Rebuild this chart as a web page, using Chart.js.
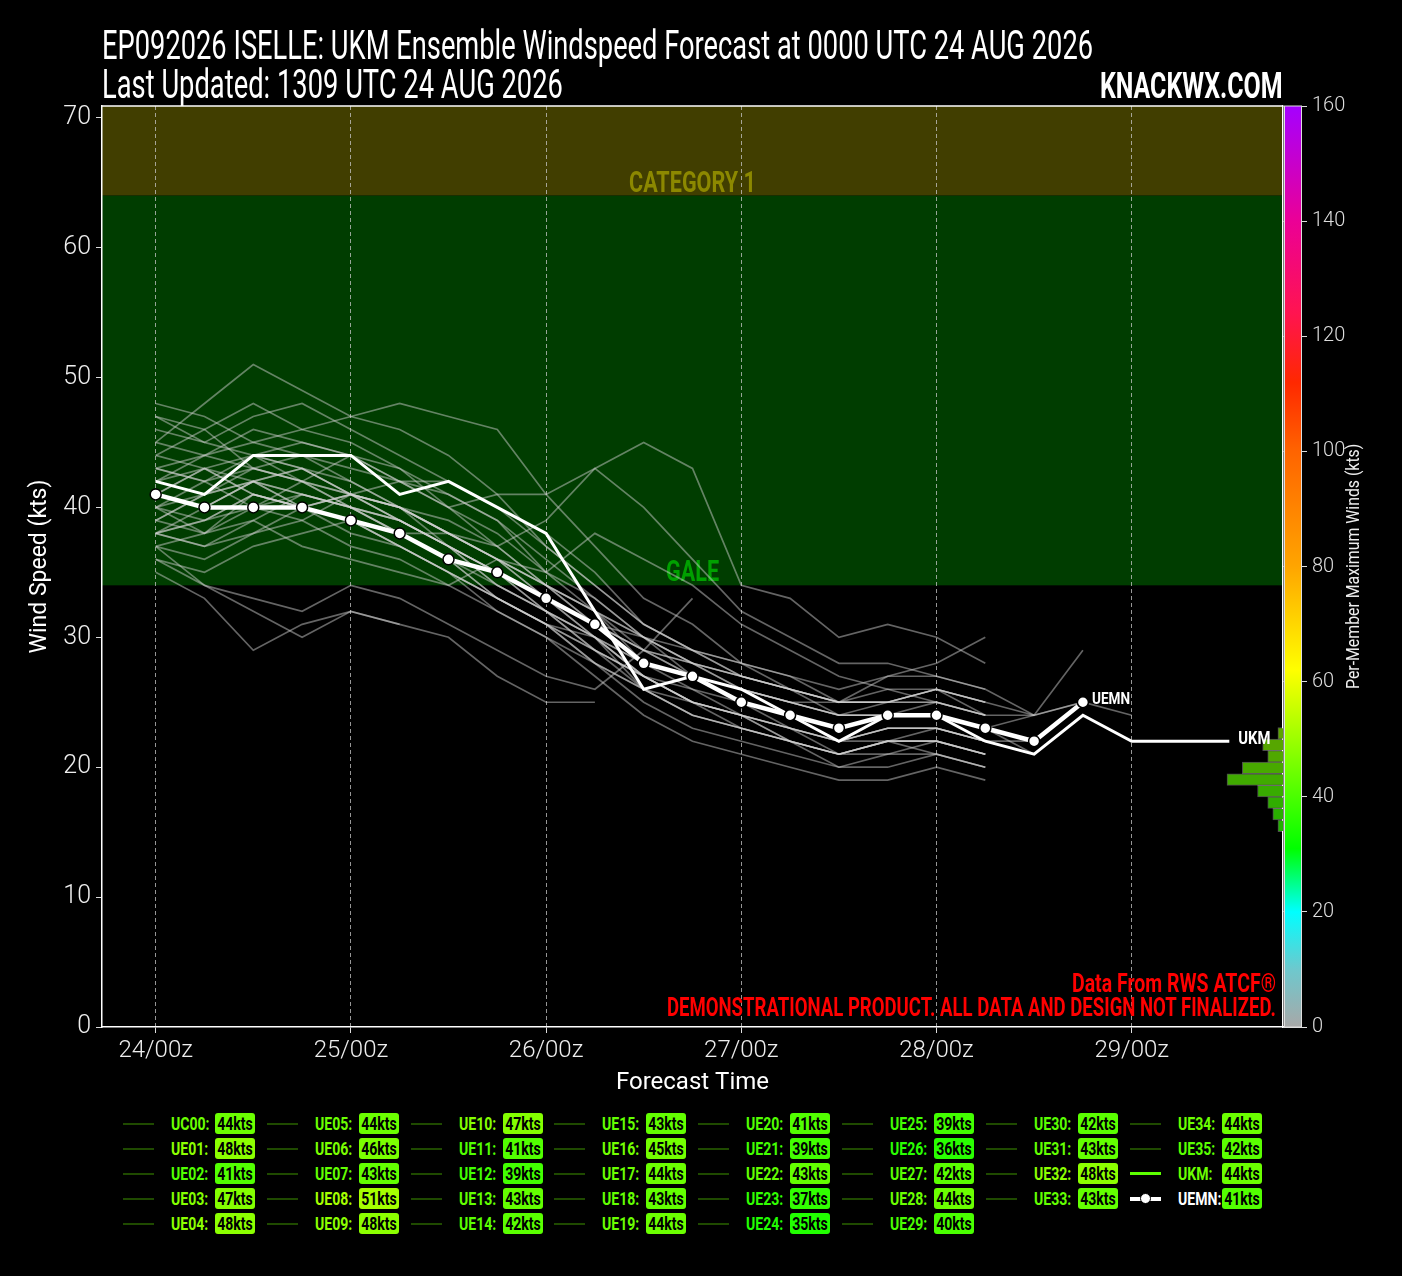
<!DOCTYPE html>
<html>
<head>
<meta charset="utf-8">
<script src="https://cdn.jsdelivr.net/npm/chart.js@4.4.1/dist/chart.umd.min.js"></script>
<style>
  html, body { margin: 0; padding: 0; background: #000; }
  body {
    width: 1402px; height: 1276px; position: relative; overflow: hidden; color: #fff;
    font-family: Roboto, "Liberation Sans", sans-serif;
  }
  #c { position: absolute; left: 0; top: 0; }
  .fit { position: absolute; white-space: nowrap; }
  .title { left: 102px; font-size: 40px; line-height: 40px; transform-origin: left top; }
  #brand { right: 119px; top: 68px; font-size: 36px; font-weight: bold; line-height: 36px; transform-origin: right top; }
  .note { right: 126px; color: #ff0000; font-weight: bold; font-size: 26px; line-height: 26px; transform-origin: right top; }
  #cbTitle {
    position: absolute; left: 1353px; top: 567px; width: 0; height: 0;
    transform: rotate(-90deg); color: #eee;
  }
  #cbt {
    position: absolute; left: -122px; top: -10px; font-size: 19px; line-height: 20px; white-space: nowrap;
    transform-origin: left center;
  }
  .item { position: absolute; height: 22px; width: 140px; }
  .item .ln { position: absolute; left: 0; top: 10px; width: 31px; height: 2px; background: #1f4a00; }
  .item .nm { position: absolute; left: 48px; top: 0; font-weight: bold; font-size: 19px; line-height: 22px;
    transform: scaleX(0.74); transform-origin: left center; white-space: nowrap; }
  .item .bx { position: absolute; left: 92px; top: 0; width: 40px; height: 21px; border-radius: 3px; overflow: hidden; }
  .item .bx span { position: absolute; left: 50%; top: 0; color: #000; font-weight: bold; font-size: 19px; line-height: 21px;
    transform: translateX(-50%) scaleX(0.74); white-space: nowrap; }
</style>
</head>
<body>
<canvas id="c" width="1402" height="1105"></canvas>
<div class="fit title" id="t1" style="top:26px">EP092026 ISELLE: UKM Ensemble Windspeed Forecast at 0000 UTC 24 AUG 2026</div>
<div class="fit title" id="t2" style="top:65px">Last Updated: 1309 UTC 24 AUG 2026</div>
<div class="fit" id="brand">KNACKWX.COM</div>
<div class="fit note" id="n1" style="top:970px">Data From RWS ATCF®</div>
<div class="fit note" id="n2" style="top:994px">DEMONSTRATIONAL PRODUCT. ALL DATA AND DESIGN NOT FINALIZED.</div>
<div id="cbTitle"><span id="cbt">Per-Member Maximum Winds (kts)</span></div>
<div id="legend"></div>
<script>
// forecast lead times (hours after 24/00z)
const leadHours = [0, 6, 12, 18, 24, 30, 36, 42, 48, 54, 60, 66, 72, 78, 84, 90, 96, 102, 108, 114, 120, 126, 132];
const tickHours = [0, 24, 48, 72, 96, 120];
const tickLabels = ['24/00z', '25/00z', '26/00z', '27/00z', '28/00z', '29/00z'];

const memberNames = ['UC00', 'UE01', 'UE02', 'UE03', 'UE04', 'UE05', 'UE06', 'UE07', 'UE08', 'UE09',
  'UE10', 'UE11', 'UE12', 'UE13', 'UE14', 'UE15', 'UE16', 'UE17', 'UE18', 'UE19',
  'UE20', 'UE21', 'UE22', 'UE23', 'UE24', 'UE25', 'UE26', 'UE27', 'UE28', 'UE29',
  'UE30', 'UE31', 'UE32', 'UE33', 'UE34', 'UE35'];

// member winds (kts), one row per member, the row stops where the member stops
const memberWinds = [
  [42, 41, 44, 43, 42, 40, 39, 37, 34, 32, 29, 27, 25, 24, 23, 24, 24, 23, 22],
  [48, 47, 45, 44, 43, 42, 40, 38, 35, 33, 30, 27, 26, 25, 24, 25, 25, 24],
  [39, 38, 41, 40, 38, 37, 35, 33, 31, 29, 27, 25, 24, 23, 22, 23, 23, 22],
  [47, 46, 43, 42, 44, 43, 41, 39, 35, 32, 28, 27, 25, 24, 22, 24, 24, 23, 21],
  [44, 46, 48, 46, 45, 43, 40, 37, 34, 31, 28, 26, 25, 23, 22, 22, 23, 22],
  [40, 42, 43, 44, 42, 40, 38, 36, 34, 31, 29, 28, 26, 25, 24, 24, 24, 23, 22],
  [43, 44, 46, 45, 44, 42, 41, 39, 36, 33, 30, 28, 26, 25, 25, 25, 26, 25],
  [41, 40, 42, 43, 41, 39, 37, 35, 33, 31, 28, 27, 26, 24, 22, 23, 23, 22],
  [45, 48, 51, 49, 47, 46, 44, 41, 37, 34, 31, 29, 28, 27, 25, 26, 26, 24, 24, 25],
  [45, 44, 45, 46, 47, 48, 47, 46, 41, 37, 33, 31, 28, 27, 26, 27, 27, 26],
  [47, 45, 44, 45, 44, 42, 42, 40, 38, 35, 31, 29, 27, 26, 25, 25, 25, 24],
  [38, 37, 39, 41, 40, 38, 36, 33, 31, 29, 27, 25, 24, 23, 22, 23, 23, 22, 21],
  [36, 35, 37, 38, 39, 37, 35, 33, 31, 30, 28, 27, 25, 24, 23, 24, 24, 23],
  [41, 43, 42, 40, 41, 39, 37, 34, 32, 30, 27, 26, 24, 23, 21, 22, 22, 21],
  [40, 38, 40, 42, 41, 40, 37, 35, 33, 30, 26, 24, 23, 22, 21, 22, 22, 21],
  [39, 41, 43, 42, 40, 38, 38, 36, 33, 31, 29, 28, 27, 26, 25, 25, 26, 25],
  [38, 39, 40, 39, 41, 42, 40, 41, 41, 43, 45, 43, 34, 33, 30, 31, 30, 28],
  [41, 43, 44, 42, 41, 39, 37, 34, 32, 29, 26, 25, 24, 23, 22, 23, 23, 22, 22],
  [42, 43, 41, 40, 39, 38, 36, 33, 31, 28, 26, 24, 23, 22, 21, 22, 22, 21],
  [43, 42, 44, 43, 41, 40, 38, 36, 33, 30, 27, 25, 24, 22, 21, 22, 22, 21],
  [38, 39, 41, 40, 39, 38, 36, 35, 33, 31, 30, 28, 27, 26, 25, 27, 28, 30],
  [37, 36, 38, 39, 37, 36, 34, 32, 30, 28, 26, 24, 23, 22, 21, 22, 21, 20],
  [40, 39, 41, 40, 41, 40, 38, 37, 39, 43, 40, 36, 32, 30, 28, 28, 27, 26, 24, 29],
  [37, 34, 32, 30, 32, 31],
  [35, 33, 29, 31, 32, 31, 30, 27, 25, 25],
  [37, 38, 39, 37, 36, 35, 34, 36, 35, 38, 36, 34, 31, 29, 27, 26, 25, 24],
  [36, 34, 33, 32, 34, 33, 31, 29, 27, 26, 29, 33],
  [40, 41, 42, 40, 39, 37, 35, 33, 31, 28, 25, 23, 22, 21, 20, 21, 21, 20],
  [42, 44, 43, 42, 40, 39, 37, 35, 32, 30, 27, 25, 23, 22, 20, 20, 21, 20],
  [38, 37, 38, 40, 39, 37, 35, 32, 30, 27, 24, 22, 21, 20, 19, 19, 20, 19],
  [41, 40, 42, 41, 40, 38, 36, 34, 32, 30, 28, 27, 26, 25, 24, 24, 25, 24],
  [39, 41, 42, 43, 41, 40, 38, 36, 34, 32, 30, 29, 28, 26, 24, 24, 24, 23, 24, 25, 24],
  [46, 45, 47, 48, 46, 44, 42, 40, 37, 34, 31, 29, 27, 26, 25, 25, 26, 25],
  [43, 42, 40, 41, 40, 39, 37, 35, 33, 31, 29, 27, 26, 25, 24, 24, 24, 23],
  [44, 43, 41, 40, 41, 40, 38, 36, 34, 32, 30, 28, 27, 26, 25, 25, 26, 25, 24],
  [38, 40, 42, 41, 40, 39, 37, 35, 32, 29, 27, 25, 24, 22, 21, 21, 22, 21]
];

const ukmWinds = [42, 41, 44, 44, 44, 41, 42, 40, 38, 32, 26, 27, 26, 24, 22, 24, 24, 22, 21, 24, 22, 22, 22];
const uemnWinds = [41, 40, 40, 40, 39, 38, 36, 35, 33, 31, 28, 27, 25, 24, 23, 24, 24, 23, 22, 25];

// side histogram (kts bin centres, member counts)
const histBinKts = [15.49, 16.38, 17.27, 18.16, 19.05, 19.94, 20.83, 21.72, 22.61];
const histCounts = [1, 2, 3, 5, 11, 8, 3, 4, 1];

const galeKts = 34;
const cat1Kts = 64;

const FONT = 'Roboto, "Liberation Sans", sans-serif';

// colour scale used by the colourbar and legend boxes
const cmapStops = [
  [0, [168, 168, 168]], [10, [110, 200, 205]], [20, [0, 255, 255]], [31, [0, 255, 0]],
  [62, [255, 255, 0]], [80, [255, 165, 0]], [100, [255, 100, 0]], [112, [255, 40, 0]],
  [124, [255, 20, 80]], [140, [235, 0, 150]], [160, [165, 0, 255]]
];
function cmap(v) {
  for (let i = 1; i < cmapStops.length; i++) {
    const [v1, c1] = cmapStops[i];
    const [v0, c0] = cmapStops[i - 1];
    if (v <= v1) {
      const f = (v - v0) / (v1 - v0);
      const c = c0.map((k, j) => Math.round(k + (c1[j] - k) * f));
      return 'rgb(' + c.join(',') + ')';
    }
  }
  return 'rgb(165,0,255)';
}

function toPoints(arr) {
  return arr.map((v, i) => v == null ? null : {x: leadHours[i], y: v}).filter(p => p);
}

const datasets = [];
datasets.push({
  type: 'line', label: 'UEMN', data: toPoints(uemnWinds), xAxisID: 'x', yAxisID: 'y', order: 0,
  borderColor: '#fff', borderWidth: 4.5, pointRadius: 5.5, pointBackgroundColor: '#fff',
  pointBorderColor: '#000', pointBorderWidth: 1.5
});
datasets.push({
  type: 'line', label: 'UKM', data: toPoints(ukmWinds), xAxisID: 'x', yAxisID: 'y', order: 1,
  borderColor: '#fff', borderWidth: 3, pointRadius: 0
});
memberWinds.forEach((arr, i) => {
  datasets.push({
    type: 'line', label: memberNames[i], data: toPoints(arr), xAxisID: 'x', yAxisID: 'y', order: 2,
    borderColor: 'rgba(210,210,210,0.48)', borderWidth: 1.7, pointRadius: 0
  });
});
datasets.push({
  type: 'bar', label: 'hist', indexAxis: 'y', xAxisID: 'xh', yAxisID: 'y', order: 3,
  data: histBinKts.map((k, i) => ({x: histCounts[i], y: k})),
  backgroundColor: ['#22b000', '#29ae00', '#30ad00', '#38ab00', '#40aa00', '#48a900', '#50a800', '#56a600', '#5ca400'],
  borderColor: 'rgba(255,255,255,0.3)', borderWidth: 1,
  grouped: false, categoryPercentage: 1, barPercentage: 1
});

// canvas text squeezed sideways to look like the narrow face of the original
function narrowText(ctx, text, x, y, sx) {
  ctx.save();
  ctx.translate(x, y);
  ctx.scale(sx, 1);
  ctx.fillText(text, 0, 0);
  ctx.restore();
}

const decor = {
  id: 'decor',
  beforeDraw(chart) {
    const {ctx, chartArea: a, scales: {y}} = chart;
    ctx.save();
    ctx.fillStyle = '#000';
    ctx.fillRect(0, 0, chart.width, chart.height);
    const pCat = y.getPixelForValue(cat1Kts);
    const pGale = y.getPixelForValue(galeKts);
    ctx.fillStyle = '#413e00';
    ctx.fillRect(a.left, a.top, a.width, pCat - a.top);
    ctx.fillStyle = '#003d00';
    ctx.fillRect(a.left, pCat, a.width, pGale - pCat);
    ctx.restore();
  },
  beforeDatasetsDraw(chart) {
    const {ctx, chartArea: a, scales: {y}} = chart;
    const cx = (a.left + a.right) / 2;
    ctx.save();
    ctx.font = 'bold 30px ' + FONT;
    ctx.textAlign = 'center';
    ctx.textBaseline = 'alphabetic';
    ctx.fillStyle = '#8c8800';
    narrowText(ctx, 'CATEGORY 1', cx, y.getPixelForValue(cat1Kts) - 4, 0.72);
    ctx.fillStyle = '#00a000';
    narrowText(ctx, 'GALE', cx, y.getPixelForValue(galeKts) - 4, 0.72);
    ctx.restore();
  },
  afterDraw(chart) {
    const {ctx, chartArea: a, scales: {x, y, yc}} = chart;
    ctx.save();
    // top frame
    ctx.strokeStyle = '#fff';
    ctx.lineWidth = 1.5;
    ctx.beginPath();
    ctx.moveTo(a.left, a.top);
    ctx.lineTo(a.right, a.top);
    ctx.stroke();
    // colourbar
    const y0 = yc.getPixelForValue(0), y1 = yc.getPixelForValue(160);
    const g = ctx.createLinearGradient(0, y0, 0, y1);
    cmapStops.forEach(([v, c]) => g.addColorStop(v / 160, 'rgb(' + c.join(',') + ')'));
    ctx.fillStyle = g;
    ctx.fillRect(a.right + 1.5, y1, 17, y0 - y1);
    ctx.lineWidth = 1;
    ctx.strokeStyle = '#ddd';
    ctx.strokeRect(a.right + 1.5, y1, 17, y0 - y1);
    // end labels
    ctx.fillStyle = '#fff';
    ctx.textBaseline = 'middle';
    ctx.textAlign = 'left';
    const iMean = uemnWinds.length - 1;
    ctx.font = 'bold 17px ' + FONT;
    narrowText(ctx, 'UEMN', x.getPixelForValue(leadHours[iMean]) + 9, y.getPixelForValue(uemnWinds[iMean]) - 2, 0.8);
    const iUkm = ukmWinds.length - 1;
    ctx.font = 'bold 19px ' + FONT;
    narrowText(ctx, 'UKM', x.getPixelForValue(leadHours[iUkm]) + 9, y.getPixelForValue(ukmWinds[iUkm]) - 2, 0.78);
    ctx.restore();
  }
};

Chart.defaults.font.family = FONT;
Chart.defaults.color = '#eee';

new Chart(document.getElementById('c'), {
  type: 'line',
  data: {datasets: datasets},
  options: {
    responsive: false,
    animation: false,
    events: [],
    layout: {padding: {top: 106, left: 0, right: 0, bottom: 0}},
    plugins: {legend: {display: false}, tooltip: {enabled: false}},
    scales: {
      x: {
        type: 'linear', axis: 'x', position: 'bottom', min: -6.6, max: 138.6,
        afterBuildTicks: s => { s.ticks = tickHours.map(v => ({value: v})); },
        afterFit: s => { s.height = 78; },
        ticks: {
          callback: v => tickLabels[tickHours.indexOf(v)],
          color: '#eee', font: {size: 24, weight: '300'}, padding: 4, maxRotation: 0
        },
        grid: {color: 'rgba(200,200,200,0.75)', lineWidth: 1, tickLength: 6, tickColor: '#ddd'},
        border: {display: true, color: '#fff', width: 1.5, dash: [4, 3]},
        title: {display: true, text: 'Forecast Time', color: '#fff', font: {size: 24}, padding: {top: 0, bottom: 8}}
      },
      xh: {
        type: 'linear', axis: 'x', display: false, reverse: true, min: 0, max: 232
      },
      y: {
        type: 'linear', axis: 'y', position: 'left', min: 0, max: 70.9, offset: false,
        afterFit: s => { s.width = 102; },
        ticks: {stepSize: 10, includeBounds: false, color: '#eee', font: {size: 25, weight: '300'}, padding: 5},
        grid: {drawOnChartArea: false, offset: false, tickLength: 6, tickColor: '#ddd'},
        border: {display: true, color: '#fff', width: 1.5},
        title: {display: true, text: 'Wind Speed (kts)', color: '#fff', font: {size: 23}, padding: {top: 26, bottom: 0}}
      },
      yc: {
        type: 'linear', axis: 'y', position: 'right', min: 0, max: 160,
        afterFit: s => { s.width = 119; },
        ticks: {stepSize: 20, color: '#ddd', font: {size: 20, weight: '300'}, padding: 5},
        grid: {drawOnChartArea: false, tickLength: 24, tickColor: '#ddd'},
        border: {display: true, color: '#fff', width: 1.5}
      }
    }
  },
  plugins: [decor]
});

// squeeze the html text blocks to the widths of the original layout
function fitWidth(el, w) {
  el.style.transform = 'scaleX(' + (w / el.offsetWidth).toFixed(4) + ')';
}
fitWidth(document.getElementById('t1'), 991);
fitWidth(document.getElementById('t2'), 461);
fitWidth(document.getElementById('brand'), 183);
fitWidth(document.getElementById('n1'), 204);
fitWidth(document.getElementById('n2'), 609);
fitWidth(document.getElementById('cbt'), 245);

// legend table below the chart
const entries = memberNames.map((n, i) => ({
  name: n, max: Math.max(...memberWinds[i]), kind: 'member'
}));
entries.push({name: 'UKM', max: Math.max(...ukmWinds), kind: 'ukm'});
entries.push({name: 'UEMN', max: Math.max(...uemnWinds), kind: 'mean'});

const legendEl = document.getElementById('legend');
const ncol = 8;
const base = Math.floor(entries.length / ncol), extra = entries.length % ncol;
let idx = 0;
for (let c = 0; c < ncol; c++) {
  const rows = base + (c < extra ? 1 : 0);
  for (let r = 0; r < rows; r++) {
    const e = entries[idx++];
    const col = cmap(e.max);
    const d = document.createElement('div');
    d.className = 'item';
    d.style.left = (123 + c * 143.8) + 'px';
    d.style.top = (1113 + r * 25) + 'px';
    let ln = '<span class="ln"></span>';
    if (e.kind === 'ukm') ln = '<span class="ln" style="height:3px;top:9px;background:#5cff00"></span>';
    if (e.kind === 'mean') {
      ln = '<span class="ln" style="height:4px;top:9px;background:#fff"></span>' +
        '<span style="position:absolute;left:10px;top:5px;width:9px;height:9px;border-radius:50%;background:#fff;border:1px solid #000"></span>';
    }
    const nameColor = e.kind === 'mean' ? '#fff' : col;
    d.innerHTML = ln + '<span class="nm" style="color:' + nameColor + '">' + e.name + ':</span>' +
      '<span class="bx" style="background:' + col + '"><span>' + e.max + 'kts</span></span>';
    legendEl.appendChild(d);
  }
}
</script>
</body>
</html>
